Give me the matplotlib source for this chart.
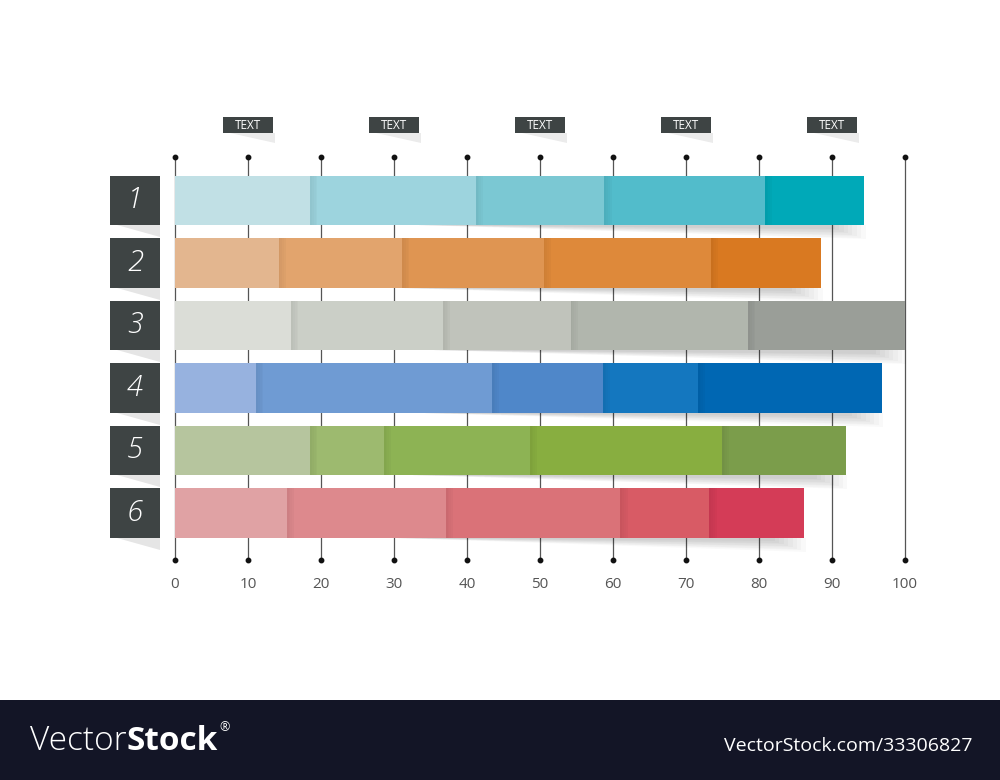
import numpy as np
import matplotlib.pyplot as plt
from matplotlib.patches import Rectangle, Polygon

# cumulative segment ends for each row (percent)
rows = ['1', '2', '3', '4', '5', '6']
row1 = [18.5, 41.2, 58.8, 80.8, 94.4]
row2 = [14.2, 31.1, 50.5, 73.4, 88.5]
row3 = [15.9, 36.7, 54.2, 78.5, 100.0]
row4 = [11.1, 43.4, 58.6, 71.6, 96.8]
row5 = [18.5, 28.6, 48.6, 74.9, 91.9]
row6 = [15.3, 37.1, 61.0, 73.2, 86.2]
ends = [row1, row2, row3, row4, row5, row6]

colors1 = ['#c1e0e5', '#9dd4de', '#7bc8d3', '#52bccb', '#00a9b8']
colors2 = ['#e3b68f', '#e2a46d', '#df9552', '#de893a', '#d97921']
colors3 = ['#dbddd7', '#cbcfc7', '#c0c3bb', '#b1b6ad', '#9a9e98']
colors4 = ['#97b2df', '#6f9bd3', '#4f87c9', '#1477bf', '#0067b3']
colors5 = ['#b6c59e', '#9dba6f', '#8db354', '#88ae40', '#7b9d4b']
colors6 = ['#e0a2a4', '#dd898d', '#da7278', '#d85b65', '#d43c57']
palettes = [colors1, colors2, colors3, colors4, colors5, colors6]

ticks = [0, 10, 20, 30, 40, 50, 60, 70, 80, 90, 100]
header_pos = [10, 30, 50, 70, 90]
header_text = ['TEXT', 'TEXT', 'TEXT', 'TEXT', 'TEXT']

dark = '#3e4444'

fig = plt.figure(figsize=(10, 7.8), dpi=100)
ax = fig.add_axes([0, 0, 1, 1])
# 0 -> px 175, 100 -> px 905 ; row 0 centre -> px 200.5, spacing 62.5 px
ax.set_xlim(-175 / 7.3, 825 / 7.3)
ax.set_ylim(5 + 267 / 62.5, -200.5 / 62.5)
ax.axis('off')

px = 1 / 7.3   # one pixel in x data units
py = 1 / 62.5  # one pixel in y data units
h = 0.79

# grid lines with dots
y_top = (157 - 200.5) * py
y_bot = (560 - 200.5) * py
for t in ticks:
    ax.plot([t, t], [y_top, y_bot], color='#555555', lw=0.9, zorder=1)
    ax.plot([t, t], [y_top, y_bot], 'o', color='#111111', ms=3.2, zorder=2)
    ax.text(t, (584 - 200.5) * py, str(t), ha='center', va='center',
            fontsize=11, color='#555555', family='Open Sans')

# header labels
for pos, txt in zip(header_pos, header_text):
    x0 = pos - 3.4
    w = 6.8
    yc = (125 - 200.5) * py
    hh = 16 * py
    shadow = Polygon([[x0 + 1.0, yc + hh / 2], [x0 + w + 0.3, yc + hh / 2],
                      [x0 + w + 0.3, yc + hh / 2 + 10 * py]],
                     closed=True, color='#000000', alpha=0.08, lw=0, zorder=2)
    ax.add_patch(shadow)
    ax.add_patch(Rectangle((x0, yc - hh / 2), w, hh, color=dark, lw=0, zorder=3))
    ax.text(pos, yc, txt, ha='center', va='center', fontsize=8.5,
            color='white', family='Open Sans', zorder=4)

# bars
for i, (e, cols) in enumerate(zip(ends, palettes)):
    y = i
    total = e[-1]
    # soft drop shadow under the right part of the bar
    for k in range(8):
        ax.add_patch(Polygon([[total * 0.35, y + h / 2],
                              [total + 0.2 - k * 0.6, y + h / 2],
                              [total + 0.2 - k * 0.6, y + h / 2 + (14 - k * 1.5) * py]],
                             closed=True, color='#000000', alpha=0.025, lw=0, zorder=2))
    starts = [0] + e[:-1]
    for s, en, c in zip(starts, e, cols):
        ax.barh(y, en - s, left=s, height=h, color=c, lw=0, zorder=3)
    # darker strip at each join
    for s in e[:-1]:
        for k in range(4):
            ax.add_patch(Rectangle((s + k * 0.25, y - h / 2), 0.25, h,
                                   color='#000000', alpha=0.07 - k * 0.016, lw=0, zorder=4))

    # row number box
    bx0 = (110 - 175) * px
    bw = 50 * px
    ax.add_patch(Polygon([[bx0 + 1.0, y + h / 2], [bx0 + bw, y + h / 2],
                          [bx0 + bw, y + h / 2 + 12 * py]],
                         closed=True, color='#000000', alpha=0.10, lw=0, zorder=2))
    ax.add_patch(Rectangle((bx0, y - h / 2), bw, h, color=dark, lw=0, zorder=3))
    ax.text(bx0 + bw / 2, y, rows[i], ha='center', va='center', fontsize=21,
            color='white', style='italic', family='Open Sans', fontweight='light', zorder=4)

# watermark band
ax.add_patch(Rectangle((-175 / 7.3, 5 + 187 / 62.5), 1000 * px, 80 * py,
                       color='#131526', lw=0, zorder=5))
yb = (741 - 200.5) * py
t1 = ax.text((30 - 175) * px, yb, 'Vector', ha='left', va='center', fontsize=24,
             color='white', family='Open Sans', fontweight='light', zorder=6)
t2 = ax.annotate('Stock', xy=(1, 0), xycoords=t1, ha='left', va='bottom',
                 fontsize=24, color='white', family='Open Sans', fontweight='bold', zorder=6)
ax.annotate('®', xy=(1, 1), xycoords=t2, xytext=(1, 3), textcoords='offset points',
            ha='left', va='top', fontsize=9, color='white', family='Open Sans', zorder=6)
ax.text((972 - 175) * px, (746 - 200.5) * py, 'VectorStock.com/33306827', ha='right', va='center',
        fontsize=14, color='white', family='Open Sans', zorder=6)

fig.savefig('out.png', dpi=100)
